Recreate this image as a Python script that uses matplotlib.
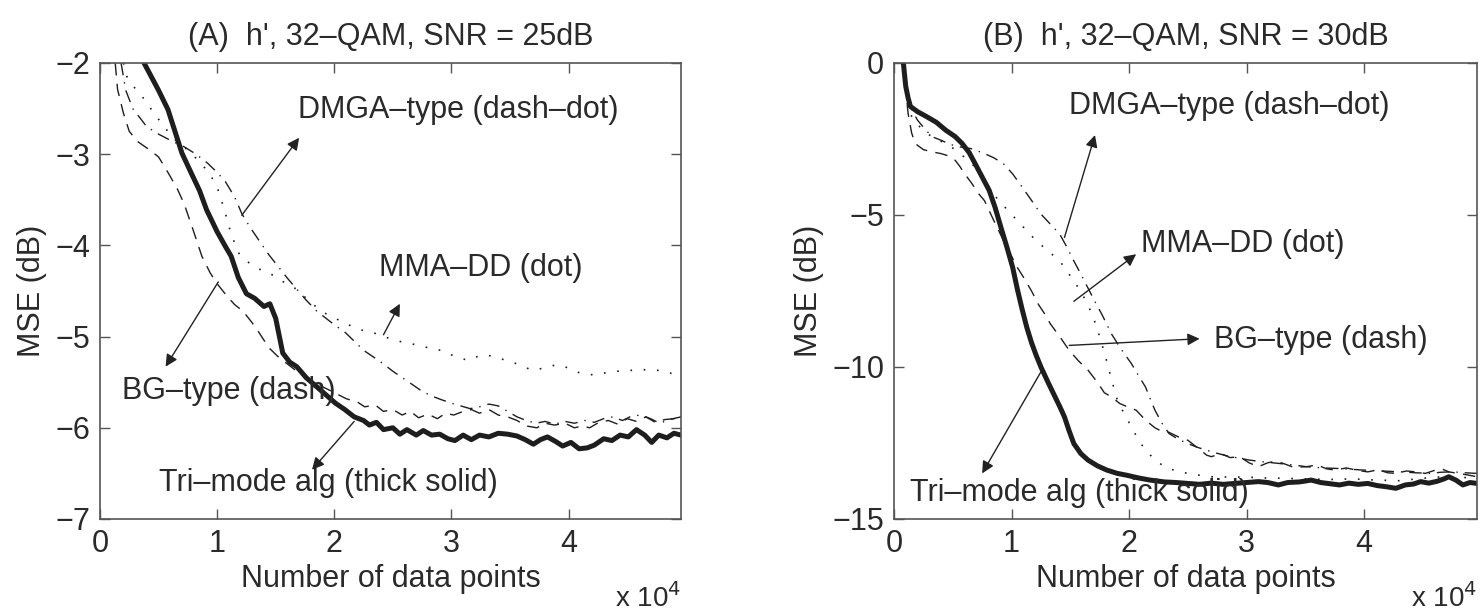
import matplotlib
matplotlib.use("Agg")
import matplotlib.pyplot as plt

plt.rcParams['font.family'] = ['Liberation Sans', 'DejaVu Sans']

# ---------------- Panel A data (x in units of 1e4 data points, MSE in dB) -------------
a_tri_x = [0.376, 0.50, 0.58, 0.64, 0.70, 0.78, 0.85, 0.91, 1.00, 1.07, 1.12, 1.18, 1.25, 1.32, 1.40,
           1.45, 1.50, 1.56, 1.62, 1.68, 1.76, 1.85, 1.93, 2.01, 2.09, 2.17, 2.25, 2.30, 2.36, 2.42,
           2.50, 2.56, 2.62, 2.70, 2.76, 2.83, 2.90, 2.97, 3.03, 3.10, 3.17, 3.24, 3.32, 3.40, 3.48,
           3.56, 3.63, 3.70, 3.76, 3.82, 3.89, 3.95, 4.02, 4.09, 4.16, 4.22, 4.30, 4.37, 4.44, 4.51,
           4.58, 4.65, 4.71, 4.77, 4.84, 4.90, 4.96]
a_tri_y = [-2.0, -2.30, -2.51, -2.75, -2.99, -3.21, -3.40, -3.61, -3.85, -4.01, -4.12, -4.35, -4.53, -4.58, -4.67,
           -4.64, -4.80, -5.18, -5.28, -5.33, -5.45, -5.55, -5.64, -5.73, -5.80, -5.88, -5.92, -5.97, -5.94, -6.02,
           -6.00, -6.07, -6.02, -6.08, -6.03, -6.08, -6.07, -6.12, -6.14, -6.08, -6.13, -6.08, -6.10, -6.06, -6.07,
           -6.09, -6.13, -6.18, -6.13, -6.10, -6.15, -6.20, -6.16, -6.23, -6.22, -6.19, -6.12, -6.14, -6.08, -6.10,
           -6.02, -6.08, -6.16, -6.08, -6.11, -6.06, -6.08]

a_bg_x = [0.13, 0.15, 0.20, 0.25, 0.32, 0.42, 0.50, 0.58, 0.66, 0.72, 0.80, 0.87, 0.94, 1.00, 1.08,
          1.15, 1.22, 1.30, 1.36, 1.44, 1.52, 1.60, 1.70, 1.80, 1.90, 2.01, 2.10, 2.20, 2.26, 2.35,
          2.42, 2.50, 2.58, 2.65, 2.72, 2.80, 2.88, 2.95, 3.02, 3.10, 3.17, 3.24, 3.32, 3.40, 3.48,
          3.56, 3.64, 3.73, 3.80, 3.88, 3.97, 4.05, 4.12, 4.18, 4.26, 4.34, 4.42, 4.50, 4.58, 4.66,
          4.74, 4.82, 4.90, 4.96]
a_bg_y = [-2.0, -2.29, -2.55, -2.75, -2.86, -2.95, -3.03, -3.20, -3.38, -3.55, -3.85, -4.12, -4.30, -4.42, -4.55,
          -4.65, -4.72, -4.85, -4.96, -5.12, -5.22, -5.30, -5.40, -5.48, -5.55, -5.62, -5.68, -5.72, -5.77, -5.75,
          -5.82, -5.80, -5.86, -5.82, -5.89, -5.85, -5.90, -5.84, -5.86, -5.82, -5.80, -5.84, -5.80, -5.86, -5.88,
          -5.92, -5.98, -6.00, -5.95, -5.97, -5.95, -6.00, -5.98, -6.00, -5.94, -5.92, -5.96, -5.90, -5.93, -5.88,
          -5.94, -5.91, -5.90, -5.88]

a_dmga_x = [0.18, 0.22, 0.28, 0.34, 0.40, 0.50, 0.62, 0.72, 0.82, 0.92, 1.00, 1.07, 1.15, 1.21, 1.28,
            1.36, 1.44, 1.52, 1.60, 1.68, 1.76, 1.85, 1.93, 2.01, 2.09, 2.17, 2.25, 2.33, 2.42, 2.50,
            2.58, 2.66, 2.75, 2.83, 2.91, 3.00, 3.08, 3.16, 3.24, 3.32, 3.40, 3.48, 3.56, 3.64, 3.72,
            3.80, 3.88, 3.97, 4.05, 4.14, 4.22, 4.30, 4.38, 4.46, 4.54, 4.62, 4.70, 4.78, 4.86, 4.96]
a_dmga_y = [-2.0, -2.30, -2.50, -2.60, -2.70, -2.78, -2.86, -2.92, -3.00, -3.10, -3.20, -3.30, -3.47, -3.65, -3.80,
            -3.95, -4.10, -4.23, -4.36, -4.48, -4.60, -4.72, -4.80, -4.88, -4.95, -5.05, -5.15, -5.22, -5.30, -5.38,
            -5.45, -5.52, -5.60, -5.65, -5.69, -5.73, -5.76, -5.79, -5.77, -5.74, -5.76, -5.82, -5.88, -5.92, -5.95,
            -5.93, -5.96, -5.93, -5.95, -5.92, -5.94, -5.90, -5.88, -5.92, -5.87, -5.86, -5.90, -5.95, -5.91, -5.88]

a_mma_x = [0.20, 0.23, 0.30, 0.38, 0.46, 0.55, 0.62, 0.70, 0.78, 0.86, 0.93, 1.00, 1.06, 1.12, 1.19,
           1.28, 1.36, 1.44, 1.52, 1.60, 1.68, 1.76, 1.85, 1.93, 2.01, 2.10, 2.18, 2.26, 2.34, 2.42,
           2.50, 2.58, 2.66, 2.74, 2.82, 2.91, 3.00, 3.08, 3.15, 3.22, 3.30, 3.38, 3.44, 3.52, 3.60,
           3.69, 3.77, 3.85, 3.92, 3.97, 4.05, 4.13, 4.22, 4.30, 4.38, 4.46, 4.54, 4.62, 4.70, 4.79,
           4.87, 4.96]
a_mma_y = [-2.0, -2.15, -2.28, -2.40, -2.55, -2.70, -2.82, -2.90, -2.99, -3.10, -3.20, -3.36, -3.60, -3.88, -4.10,
           -4.20, -4.26, -4.30, -4.36, -4.43, -4.48, -4.58, -4.68, -4.75, -4.80, -4.86, -4.90, -4.94, -4.96, -5.00,
           -5.03, -5.06, -5.08, -5.10, -5.13, -5.15, -5.20, -5.24, -5.26, -5.22, -5.20, -5.23, -5.25, -5.28, -5.32,
           -5.37, -5.35, -5.32, -5.31, -5.33, -5.38, -5.41, -5.42, -5.40, -5.39, -5.37, -5.37, -5.36, -5.37, -5.37,
           -5.40, -5.46]

# ---------------- Panel B data -------------
b_tri_x = [0.08, 0.09, 0.10, 0.12, 0.14, 0.20, 0.28, 0.36, 0.44, 0.52, 0.58, 0.64, 0.69, 0.75, 0.81,
           0.86, 0.91, 0.96, 1.01, 1.05, 1.09, 1.13, 1.17, 1.21, 1.25, 1.31, 1.37, 1.41, 1.45, 1.49,
           1.53, 1.59, 1.65, 1.73, 1.81, 1.90, 1.98, 2.08, 2.18, 2.30, 2.40, 2.50, 2.60, 2.70, 2.80,
           2.90, 3.00, 3.10, 3.18, 3.27, 3.35, 3.45, 3.55, 3.63, 3.71, 3.79, 3.87, 3.95, 4.03, 4.11,
           4.19, 4.27, 4.35, 4.42, 4.48, 4.55, 4.62, 4.68, 4.72, 4.78, 4.84, 4.90, 4.96]
b_tri_y = [0.0, -0.4, -0.77, -1.15, -1.43, -1.60, -1.77, -1.95, -2.21, -2.42, -2.65, -2.95, -3.31, -3.75, -4.19,
           -4.75, -5.41, -6.05, -6.73, -7.45, -8.10, -8.70, -9.20, -9.62, -10.0, -10.5, -10.98, -11.30, -11.64, -12.10,
           -12.52, -12.85, -13.06, -13.25, -13.39, -13.50, -13.56, -13.65, -13.72, -13.78, -13.80, -13.83, -13.86, -13.82, -13.86,
           -13.83, -13.80, -13.77, -13.80, -13.88, -13.80, -13.78, -13.72, -13.80, -13.84, -13.88, -13.82, -13.86, -13.83, -13.90,
           -13.94, -13.99, -13.88, -13.85, -13.77, -13.82, -13.76, -13.68, -13.61, -13.72, -13.88, -13.80, -13.83]

b_bg_x = [0.08, 0.10, 0.12, 0.15, 0.18, 0.25, 0.32, 0.40, 0.46, 0.52, 0.56, 0.60, 0.66, 0.72, 0.77,
          0.85, 0.92, 0.98, 1.05, 1.11, 1.17, 1.23, 1.29, 1.33, 1.41, 1.49, 1.57, 1.65, 1.73, 1.79,
          1.85, 1.92, 1.98, 2.06, 2.14, 2.22, 2.26, 2.34, 2.42, 2.50, 2.58, 2.66, 2.70, 2.78, 2.86,
          2.94, 3.02, 3.10, 3.18, 3.25, 3.31, 3.40, 3.51, 3.60, 3.68, 3.75, 3.85, 3.94, 4.03, 4.12,
          4.20, 4.27, 4.36, 4.44, 4.52, 4.60, 4.66, 4.72, 4.80, 4.88, 4.96]
b_bg_y = [0.0, -0.9, -1.66, -2.30, -2.65, -2.85, -2.92, -2.98, -3.05, -3.20, -3.40, -3.64, -3.95, -4.30, -4.53,
          -5.19, -5.75, -6.20, -6.73, -7.10, -7.50, -7.95, -8.30, -8.58, -9.00, -9.45, -9.80, -10.10, -10.50, -10.85,
          -10.98, -11.20, -11.30, -11.42, -11.75, -12.00, -12.08, -12.15, -12.30, -12.41, -12.65, -12.90, -12.95, -12.85, -12.98,
          -12.95, -13.15, -13.28, -13.15, -13.10, -13.17, -13.30, -13.28, -13.22, -13.35, -13.39, -13.32, -13.40, -13.45, -13.38,
          -13.48, -13.50, -13.42, -13.45, -13.50, -13.40, -13.35, -13.45, -13.50, -13.55, -13.61]

b_dmga_x = [0.08, 0.10, 0.12, 0.16, 0.20, 0.28, 0.34, 0.40, 0.48, 0.56, 0.66, 0.77, 0.85, 0.93, 1.01,
            1.09, 1.17, 1.25, 1.33, 1.41, 1.47, 1.53, 1.59, 1.65, 1.71, 1.77, 1.85, 1.93, 2.02, 2.08,
            2.14, 2.18, 2.22, 2.28, 2.34, 2.42, 2.50, 2.58, 2.66, 2.76, 2.86, 2.94, 3.02, 3.14, 3.27,
            3.39, 3.51, 3.65, 3.79, 3.99, 4.15, 4.31, 4.44, 4.56, 4.66, 4.76, 4.86, 4.96]
b_dmga_y = [0.0, -0.8, -1.21, -1.60, -1.88, -2.25, -2.45, -2.54, -2.68, -2.76, -2.82, -2.98, -3.12, -3.31, -3.65,
            -4.08, -4.52, -4.97, -5.30, -5.63, -6.05, -6.51, -6.95, -7.40, -7.85, -8.28, -8.91, -9.40, -9.89, -10.28,
            -10.66, -11.05, -11.42, -11.85, -12.19, -12.38, -12.52, -12.64, -12.74, -12.85, -12.95, -13.00, -13.06, -13.12, -13.17,
            -13.22, -13.28, -13.32, -13.34, -13.39, -13.42, -13.45, -13.48, -13.50, -13.46, -13.45, -13.48, -13.50]

b_mma_x = [0.08, 0.10, 0.12, 0.18, 0.28, 0.36, 0.44, 0.52, 0.60, 0.69, 0.76, 0.83, 0.89, 0.97, 1.05,
           1.13, 1.21, 1.31, 1.41, 1.49, 1.57, 1.63, 1.69, 1.75, 1.80, 1.85, 1.90, 1.96, 2.02, 2.08,
           2.14, 2.22, 2.30, 2.40, 2.50, 2.60, 2.70, 2.85, 3.00, 3.15, 3.30, 3.50, 3.70, 3.90, 4.10,
           4.30, 4.50, 4.70, 4.96]
b_mma_y = [0.0, -0.9, -1.55, -1.95, -2.32, -2.50, -2.65, -2.85, -3.10, -3.42, -3.80, -4.20, -4.53, -4.85, -5.19,
           -5.52, -5.85, -6.18, -6.51, -6.95, -7.40, -7.80, -8.30, -9.00, -9.67, -10.40, -11.09, -11.55, -11.97, -12.40,
           -12.74, -13.05, -13.28, -13.42, -13.50, -13.56, -13.61, -13.62, -13.62, -13.65, -13.66, -13.68, -13.70, -13.68, -13.72,
           -13.74, -13.66, -13.60, -13.66]

x_ticks = [0, 1, 2, 3, 4]
x_tick_labels = ['0', '1', '2', '3', '4']
a_y_ticks = [-7, -6, -5, -4, -3, -2]
b_y_ticks = [-15, -10, -5, 0]

titles = ["(A)  h', 32\u2013QAM, SNR = 25dB", "(B)  h', 32\u2013QAM, SNR = 30dB"]
labels = ["DMGA\u2013type (dash\u2013dot)", "MMA\u2013DD (dot)", "BG\u2013type (dash)",
          "Tri\u2013mode alg (thick solid)"]

# annotation anchors (text position, arrow tail, arrow head), x in 1e4 units
a_notes = [((1.69, -2.52), (1.21, -3.67), (1.70, -2.82)),
           ((2.38, -4.25), (2.42, -4.98), (2.56, -4.64)),
           ((0.19, -5.60), (1.01, -4.40), (0.56, -5.33)),
           ((0.50, -6.61), (2.17, -5.93), (1.81, -6.46))]
b_notes = [((1.49, -1.40), (1.45, -5.74), (1.71, -2.37)),
           ((2.10, -5.96), (1.53, -7.84), (2.06, -6.29)),
           ((2.72, -9.10), (1.49, -9.29), (2.60, -9.07)),
           ((0.14, -14.16), (1.25, -10.16), (0.75, -13.50))]

SCALE = 1e4
W, H = 1481, 610
fig = plt.figure(figsize=(W / 100, H / 100), dpi=100)
ax1 = fig.add_axes([100 / W, 1 - 519 / H, 581 / W, 456 / H])
ax2 = fig.add_axes([894 / W, 1 - 519 / H, 583 / W, 456 / H])

LC = '#1e1e1e'
TC = '#2a2a2a'
FS = 22


def draw(ax, tri, bg, dmga, mma, ylim, yticks, title, notes):
    sx = lambda v: [t * SCALE for t in v]
    ax.plot(sx(mma[0]), mma[1], color=LC, lw=1.2, linestyle=(0, (1, 7)))
    ax.plot(sx(dmga[0]), dmga[1], color=LC, lw=1.0, linestyle=(0, (9, 5, 1, 5)))
    ax.plot(sx(bg[0]), bg[1], color=LC, lw=1.0, linestyle=(0, (9, 6)))
    ax.plot(sx(tri[0]), tri[1], color=LC, lw=3.6, solid_joinstyle='round')
    ax.set_xlim(0, 4.96 * SCALE)
    ax.set_ylim(*ylim)
    ax.set_xticks([t * SCALE for t in x_ticks])
    ax.set_xticklabels(x_tick_labels)
    ax.set_yticks(yticks)
    ax.tick_params(direction='in', top=True, right=True, length=7, width=1, colors='#555555',
                   labelcolor=TC, labelsize=FS, pad=7)
    for s in ax.spines.values():
        s.set_color('#555555')
        s.set_linewidth(1.2)
    ax.set_title(title, fontsize=FS, color=TC, pad=13)
    ax.set_xlabel('Number of data points', fontsize=FS, color=TC, labelpad=4)
    ax.set_ylabel('MSE (dB)', fontsize=FS, color=TC, labelpad=6)
    ax.text(1.0, -0.14, r'x 10$^4$', transform=ax.transAxes, ha='right', va='top',
            fontsize=FS - 2, color=TC)
    for lab, (tp, tail, head) in zip(labels, notes):
        ax.text(tp[0] * SCALE, tp[1], lab, fontsize=FS, color=TC, ha='left', va='center')
        ax.annotate('', xy=(head[0] * SCALE, head[1]), xytext=(tail[0] * SCALE, tail[1]),
                    arrowprops=dict(arrowstyle='-|>', color='#222222', lw=1.0,
                                    mutation_scale=18, shrinkA=0, shrinkB=0))


draw(ax1, (a_tri_x, a_tri_y), (a_bg_x, a_bg_y), (a_dmga_x, a_dmga_y), (a_mma_x, a_mma_y),
     (-7, -2), a_y_ticks, titles[0], a_notes)
draw(ax2, (b_tri_x, b_tri_y), (b_bg_x, b_bg_y), (b_dmga_x, b_dmga_y), (b_mma_x, b_mma_y),
     (-15, 0), b_y_ticks, titles[1], b_notes)

fig.savefig('out.png', dpi=100)
